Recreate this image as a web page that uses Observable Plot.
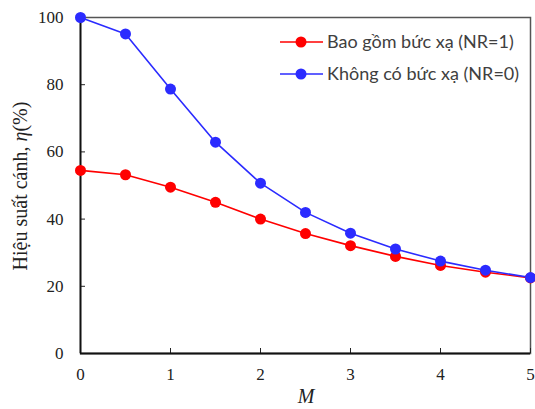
<!DOCTYPE html>
<html>
<head>
<meta charset="utf-8">
<script src="https://cdn.jsdelivr.net/npm/d3@7"></script>
<script src="https://cdn.jsdelivr.net/npm/@observablehq/plot@0.6"></script>
<style>
  html, body { margin: 0; padding: 0; background: #fff; }
  #chart { width: 535px; height: 409px; position: relative; }
</style>
</head>
<body>
<div id="chart"></div>
<script>
const M = [0, 0.5, 1, 1.5, 2, 2.5, 3, 3.5, 4, 4.5, 5];
const withRad = [54.5, 53.2, 49.5, 45.0, 40.0, 35.7, 32.1, 28.9, 26.2, 24.2, 22.5];
const noRad = [100, 95.1, 78.7, 62.9, 50.7, 42.0, 35.8, 31.1, 27.5, 24.8, 22.6];
const seriesNames = ["Bao gồm bức xạ (NR=1)", "Không có bức xạ (NR=0)"];
const seriesColors = ["#ff0000", "#2b2bff"];
const xTicks = [0, 1, 2, 3, 4, 5];
const yTicks = [0, 20, 40, 60, 80, 100];

const data = [];
M.forEach((m, i) => {
  data.push({M: m, eta: withRad[i], s: seriesNames[0]});
  data.push({M: m, eta: noRad[i], s: seriesNames[1]});
});

const serif = "'Liberation Serif', 'Times New Roman', serif";

const chart = Plot.plot({
  width: 535,
  height: 409,
  marginLeft: 80,
  marginTop: 17,
  marginRight: 5,
  marginBottom: 56,
  style: {fontFamily: serif, fontSize: "17px", color: "#222", background: "#fff", overflow: "visible"},
  x: {domain: [0, 5]},
  y: {domain: [0, 100]},
  color: {domain: seriesNames, range: seriesColors},
  marks: [
    Plot.frame({stroke: "#555", strokeWidth: 1.5}),
    Plot.axisX({ticks: xTicks, tickSize: -5, tickPadding: 19, label: null, fontSize: 17, tickFormat: d => d}),
    Plot.axisY({ticks: yTicks, tickSize: -5, tickPadding: 22, label: null, fontSize: 17, tickFormat: d => d}),
    Plot.ruleX([0], {stroke: "#111", strokeWidth: 1.8}),
    Plot.ruleY([0], {stroke: "#111", strokeWidth: 1.8}),
    Plot.line(data, {x: "M", y: "eta", z: "s", stroke: "s", strokeWidth: 1.6}),
    Plot.dot(data, {x: "M", y: "eta", fill: "s", r: 5.5, stroke: null})
  ]
});
document.getElementById("chart").appendChild(chart);

const svg = d3.select(chart);
// Y axis label
const yl = svg.append("text")
  .attr("transform", "translate(27,186) rotate(-90)")
  .attr("text-anchor", "middle")
  .attr("font-family", serif)
  .attr("font-size", 20)
  .attr("fill", "#222");
yl.append("tspan").text("Hiệu suất cánh, ");
yl.append("tspan").attr("font-style", "italic").text("η");
yl.append("tspan").text("(%)");

// X axis label
svg.append("text")
  .attr("x", 306).attr("y", 403)
  .attr("text-anchor", "middle")
  .attr("font-family", serif)
  .attr("font-style", "italic")
  .attr("font-size", 20)
  .attr("fill", "#222")
  .text("M");

// Legend
const lg = svg.append("g").attr("text-anchor", "start");
seriesNames.forEach((name, i) => {
  const y = 42 + i * 32;
  lg.append("line").attr("x1", 280).attr("x2", 323).attr("y1", y).attr("y2", y)
    .attr("stroke", seriesColors[i]).attr("stroke-width", 1.6);
  lg.append("circle").attr("cx", 301).attr("cy", y).attr("r", 5.5).attr("fill", seriesColors[i]);
  lg.append("text").attr("x", 327).attr("y", y).attr("dy", "0.35em")
    .attr("text-anchor", "start")
    .attr("font-family", "Lato, 'Noto Sans', sans-serif").attr("font-size", 18)
    .attr("fill", "#404040").text(name);
});
</script>
</body>
</html>
